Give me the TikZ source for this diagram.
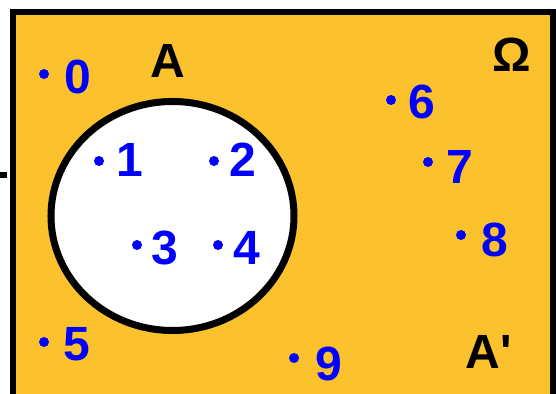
\documentclass[tikz,border=0pt]{standalone}
\usepackage{fontspec}
\setmainfont{Liberation Sans}
\usetikzlibrary{shapes.geometric}
\definecolor{setorange}{RGB}{251,194,45}
\definecolor{elemblue}{RGB}{0,0,255}

\begin{document}
\begin{tikzpicture}[
    x=0.5pt, y=-0.5pt,
    dot/.style={circle, fill=elemblue, inner sep=0pt, minimum size=5pt},
    num/.style={text=elemblue, font=\fontsize{24}{24}\selectfont\bfseries, inner sep=0pt},
    setname/.style={text=black, font=\fontsize{24}{24}\selectfont\bfseries, inner sep=0pt}
]
\useasboundingbox (0,0) rectangle (556,394);
\clip (0,0) rectangle (556,394);

% universe and the set A
\draw[line width=3pt, fill=setorange] (13,12) rectangle (552.5,420);
\draw[line width=3pt] (0,175) -- (7,175);
\node[ellipse, draw, line width=3.5pt, fill=white, inner sep=0pt,
      minimum width=121.5pt, minimum height=114.5pt] (setA) at (172.5,216) {};

\node[setname] (labA) at (168,61) {A};
\node[setname] (labOmega) at (512,55) {Ω};
\node[setname] (labAc) at (489,352) {A\textquotesingle};

% elements
\node[dot] (d0) at (44,74) {};
\node[num] (n0) at (78,77) {0};
\node[dot] (d1) at (99,161) {};
\node[num] (n1) at (130,160) {1};
\node[dot] (d2) at (214,161) {};
\node[num] (n2) at (243,160) {2};
\node[dot] (d3) at (137,245) {};
\node[num] (n3) at (165,248) {3};
\node[dot] (d4) at (218,245) {};
\node[num] (n4) at (247,248) {4};
\node[dot] (d5) at (44,342) {};
\node[num] (n5) at (77,344) {5};
\node[dot] (d6) at (391,100) {};
\node[num] (n6) at (422,102) {6};
\node[dot] (d7) at (428,162) {};
\node[num] (n7) at (460,167) {7};
\node[dot] (d8) at (461,235) {};
\node[num] (n8) at (495,240) {8};
\node[dot] (d9) at (294,358) {};
\node[num] (n9) at (329,364) {9};
\end{tikzpicture}
\end{document}
